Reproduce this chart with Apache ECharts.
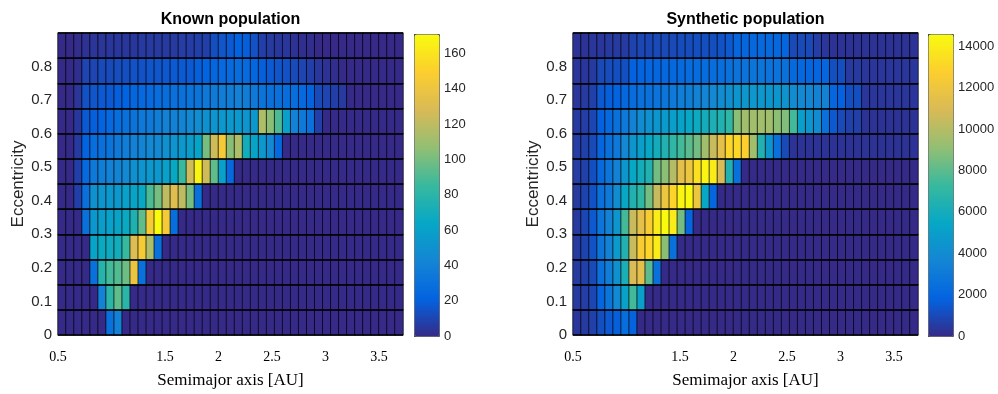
<!DOCTYPE html>
<html><head><meta charset="utf-8">
<script src="https://cdn.jsdelivr.net/npm/echarts@6/dist/echarts.min.js"></script>
<style>html,body{margin:0;padding:0;background:#fff}#c{width:998px;height:394px}</style>
</head><body><div id="c"></div>
<script>
// ---- bins ----
const A_START = 0.5, A_BIN = 0.075, N_A = 43;
const E_START = 0, E_BIN = 0.075, N_E = 12;
const X_TICKS = [0.5, 1.5, 2, 2.5, 3, 3.5];
const Y_TICKS = [0, 0.1, 0.2, 0.3, 0.4, 0.5, 0.6, 0.7, 0.8];
const KNOWN_MAX = 171, SYNTH_MAX = 14600;
const KNOWN_CBAR_TICKS = [0, 20, 40, 60, 80, 100, 120, 140, 160];
const SYNTH_CBAR_TICKS = [0, 2000, 4000, 6000, 8000, 10000, 12000, 14000];
const TITLES = ['Known population', 'Synthetic population'];
const X_NAME = 'Semimajor axis [AU]', Y_NAME = 'Eccentricity';

// ---- Known population counts: rows = eccentricity bins (bottom→top), 43 semimajor-axis bins ----
const KNOWN_E0  = [0,0,0,0,0,0,30,40,0,0, 0,0,0,0,0,0,0,0,0,0, 0,0,0,0,0,0,0,0,0,0, 0,0,0,0,0,0,0,0,0,0, 0,0,0];
const KNOWN_E1  = [0,0,0,0,0,40,80,95,80,0, 0,0,0,0,0,0,0,0,0,0, 0,0,0,0,0,0,0,0,0,0, 0,0,0,0,0,0,0,0,0,0, 0,0,0];
const KNOWN_E2  = [0,0,0,0,30,78,88,92,98,140, 30,0,0,0,0,0,0,0,0,0, 0,0,0,0,0,0,0,0,0,0, 0,0,0,0,0,0,0,0,0,0, 0,0,0];
const KNOWN_E3  = [0,0,0,0,62,66,68,70,85,130, 145,115,30,0,0,0,0,0,0,0, 0,0,0,0,0,0,0,0,0,0, 0,0,0,0,0,0,0,0,0,0, 0,0,0];
const KNOWN_E4  = [0,0,0,30,55,58,60,62,66,75, 95,145,171,145,28,0,0,0,0,0, 0,0,0,0,0,0,0,0,0,0, 0,0,0,0,0,0,0,0,0,0, 0,0,0];
const KNOWN_E5  = [0,0,8,30,50,52,55,55,60,62, 65,90,100,120,132,120,100,30,0,0, 0,0,0,0,0,0,0,0,0,0, 0,0,0,0,0,0,0,0,0,0, 0,0,0];
const KNOWN_E6  = [0,0,8,25,35,38,40,42,45,50, 52,55,55,60,65,85,125,168,125,95, 60,25,0,0,0,0,0,0,0,0, 0,0,0,0,0,0,0,0,0,0, 0,0,0];
const KNOWN_E7  = [0,0,6,22,28,30,32,35,38,40, 42,45,45,50,52,55,58,62,100,125, 145,105,115,70,62,55,45,25,0,0, 0,0,0,0,0,0,0,0,0,0, 0,0,0];
const KNOWN_E8  = [0,0,5,18,20,22,25,28,30,32, 35,35,38,40,40,42,45,48,50,52, 55,55,55,52,55,115,105,90,60,40, 35,30,8,0,0,0,0,0,0,0, 0,0,0];
const KNOWN_E9  = [0,0,4,15,16,18,18,20,22,24, 25,26,28,28,30,30,32,32,35,36, 38,38,40,38,35,32,30,30,28,28, 25,22,12,10,8,6,0,0,0,0, 0,0,0];
const KNOWN_E10 = [0,0,2,10,10,12,12,13,14,15, 15,16,16,17,18,18,18,20,22,24, 25,26,28,26,24,20,18,16,15,12, 10,8,5,3,2,0,0,0,0,0, 0,0,0];
const KNOWN_E11 = [0,0,1,3,4,4,5,5,5,5, 6,6,6,6,6,7,7,8,8,14, 16,18,22,20,15,8,6,5,5,3, 2,2,0,0,0,0,0,0,0,0, 0,0,0];

// ---- Synthetic population counts ----
const SYNTH_E0  = [400,500,700,1200,1500,1700,2400,1900,0,0, 0,0,0,0,0,0,0,0,0,0, 0,0,0,0,0,0,0,0,0,0, 0,0,0,0,0,0,0,0,0,0, 0,0,0];
const SYNTH_E1  = [500,600,900,2000,2800,3800,5200,7500,5000,0, 0,0,0,0,0,0,0,0,0,0, 0,0,0,0,0,0,0,0,0,0, 0,0,0,0,0,0,0,0,0,0, 0,0,0];
const SYNTH_E2  = [500,700,1000,2500,3200,4300,6200,11000,11500,8000, 2500,0,0,0,0,0,0,0,0,0, 0,0,0,0,0,0,0,0,0,0, 0,0,0,0,0,0,0,0,0,0, 0,0,0];
const SYNTH_E3  = [500,800,1300,2800,3500,4800,6500,10500,12500,13000, 14000,9000,2500,0,0,0,0,0,0,0, 0,0,0,0,0,0,0,0,0,0, 0,0,0,0,0,0,0,0,0,0, 0,0,0];
const SYNTH_E4  = [500,900,1500,2800,3500,4500,7500,10500,11500,12500, 14000,14600,14000,8500,2000,0,0,0,0,0, 0,0,0,0,0,0,0,0,0,0, 0,0,0,0,0,0,0,0,0,0, 0,0,0];
const SYNTH_E5  = [500,800,1300,2500,3000,4000,5500,6500,7000,8500, 10500,12000,13000,14300,14500,12000,5500,2000,0,0, 0,0,0,0,0,0,0,0,0,0, 0,0,0,0,0,0,0,0,0,0, 0,0,0];
const SYNTH_E6  = [600,700,1200,2200,2800,3500,4500,5500,6000,6500, 8500,9000,10000,11500,12000,13500,14300,14000,11000,6500, 2500,0,0,0,0,0,0,0,0,0, 0,0,0,0,0,0,0,0,0,0, 0,0,0];
const SYNTH_E7  = [600,700,1000,2000,2500,3000,3800,4500,5000,5500, 6000,6500,7000,7500,8000,8500,9500,10500,11500,13000, 13200,12800,9500,6500,4500,2500,1000,300,300,300, 300,300,300,300,300,300,300,300,300,300, 300,300,300];
const SYNTH_E8  = [500,600,900,1800,2200,2600,3000,3500,4000,4300, 4500,4800,5000,5200,5500,5800,6000,6300,6500,7000, 9000,9500,9500,9500,9500,9000,8800,7500,5000,4500, 4000,2500,1500,1000,700,700,300,300,300,300, 300,300,300];
const SYNTH_E9  = [400,500,700,1500,1700,1900,2100,2300,2500,2600, 2700,2800,3000,3200,3300,3500,3600,3800,4000,4200, 4500,4600,4600,4600,4500,4500,4400,4000,3800,3700, 3500,3500,2000,1800,1200,1200,400,400,400,400, 400,400,400];
const SYNTH_E10 = [400,400,500,1000,1100,1200,1200,1800,1900,2000, 2000,2100,2100,2200,2300,2300,2300,2400,2400,2500, 2700,2700,2800,2800,2700,2700,2600,2200,2100,2000, 2000,2000,1200,1200,500,500,400,400,400,400, 400,400,400];
const SYNTH_E11 = [300,300,400,400,500,500,500,800,900,900, 1000,1000,1000,1100,1100,1200,1200,1200,1300,1500, 2000,2000,2100,2200,2200,2100,2000,1000,1000,1000, 600,400,300,300,300,300,300,300,300,300, 300,300,300];

const KNOWN_ROWS = [KNOWN_E0,KNOWN_E1,KNOWN_E2,KNOWN_E3,KNOWN_E4,KNOWN_E5,KNOWN_E6,KNOWN_E7,KNOWN_E8,KNOWN_E9,KNOWN_E10,KNOWN_E11];
const SYNTH_ROWS = [SYNTH_E0,SYNTH_E1,SYNTH_E2,SYNTH_E3,SYNTH_E4,SYNTH_E5,SYNTH_E6,SYNTH_E7,SYNTH_E8,SYNTH_E9,SYNTH_E10,SYNTH_E11];

const PARULA = ['#352a87','#0363e1','#1485d4','#06a7c6','#38b99e','#92bf73','#d9ba56','#fcce2e','#f9fb0e'];

const X_CATS = Array.from({length: N_A}, (_, i) => (A_START + i * A_BIN).toFixed(3));
const Y_CATS = Array.from({length: N_E}, (_, i) => (E_START + i * E_BIN).toFixed(3));
const A_END = A_START + N_A * A_BIN, E_END = E_START + N_E * E_BIN;

function cells(rows) {
  const d = [];
  rows.forEach((row, r) => row.forEach((v, c) => d.push([c, r, v])));
  return d;
}
function inList(list) {
  return v => (list.some(t => Math.abs(t - v) < 1e-6) ? String(+v.toFixed(4)) : '');
}

const AX_GRAY = '#262626';
const SANS = 'Liberation Sans, Arial, Helvetica, sans-serif';
const SERIF = 'Liberation Serif, Times New Roman, serif';

const PLOTS = [
  {left: 58, cbarLeft: 414, rows: KNOWN_ROWS, max: KNOWN_MAX, ticks: KNOWN_CBAR_TICKS, title: TITLES[0]},
  {left: 573, cbarLeft: 928, rows: SYNTH_ROWS, max: SYNTH_MAX, ticks: SYNTH_CBAR_TICKS, title: TITLES[1]}
];
const TOP = 33, W = 345, H = 302, CBW = 25;

const grid = [], xAxis = [], yAxis = [], series = [], visualMap = [], graphic = [];
PLOTS.forEach((p, k) => {
  grid.push({left: p.left, top: TOP, width: W, height: H, outerBoundsMode: 'none'});
  grid.push({left: p.cbarLeft, top: TOP + 1, width: CBW, height: H, outerBoundsMode: 'none'});
  const g = k * 2, gc = k * 2 + 1;
  const xi = xAxis.length, yi = yAxis.length;
  // category axes carrying the heatmap (row separators drawn on top as split lines)
  xAxis.push({type: 'category', gridIndex: g, data: X_CATS, show: false});
  yAxis.push({type: 'category', gridIndex: g, data: Y_CATS, show: true, z: 5,
    axisLine: {show: false}, axisTick: {show: false}, axisLabel: {show: false},
    splitLine: {show: true, interval: 0, lineStyle: {color: '#000', width: 1.5}}});
  // value axes for labels
  xAxis.push({type: 'value', gridIndex: g, min: A_START, max: A_END, interval: 0.5, position: 'bottom',
    axisLine: {show: false}, axisTick: {show: false}, splitLine: {show: false},
    axisLabel: {formatter: inList(X_TICKS), fontFamily: SERIF, fontSize: 14, color: '#000', margin: 15, showMaxLabel: false},
    name: X_NAME, nameLocation: 'middle', nameGap: 37,
    nameTextStyle: {fontFamily: SERIF, fontSize: 17, color: '#000'}});
  yAxis.push({type: 'value', gridIndex: g, min: E_START, max: E_END, interval: 0.1, position: 'left',
    axisLine: {show: false}, axisTick: {show: false}, splitLine: {show: false},
    axisLabel: {formatter: inList(Y_TICKS), fontFamily: SANS, fontSize: 15, color: AX_GRAY, margin: 6},
    name: Y_NAME, nameLocation: 'middle', nameGap: 30, nameRotate: 90,
    nameTextStyle: {fontFamily: SANS, fontSize: 17, color: AX_GRAY}});
  // colorbar axes
  xAxis.push({type: 'value', gridIndex: gc, min: 0, max: 1, show: false});
  yAxis.push({type: 'value', gridIndex: gc, min: 0, max: p.max, interval: p.ticks[1], position: 'right',
    axisLine: {show: false}, axisTick: {show: true, length: 3, lineStyle: {color: '#333'}}, splitLine: {show: false},
    axisLabel: {formatter: inList(p.ticks), fontFamily: SANS, fontSize: 13, color: AX_GRAY, margin: 5}});
  series.push({type: 'heatmap', xAxisIndex: xi, yAxisIndex: yi, data: cells(p.rows),
    itemStyle: {borderColor: 'rgba(0,0,0,0.7)', borderWidth: 1},
    emphasis: {disabled: true}, progressive: 0, animation: false});
  visualMap.push({type: 'continuous', seriesIndex: k, min: 0, max: p.max, inRange: {color: PARULA},
    calculable: false, hoverLink: false, text: null, showLabel: false,
    left: p.cbarLeft, top: TOP + 1, itemWidth: CBW, itemHeight: H, padding: 0,
    borderColor: '#555', borderWidth: 1});
  graphic.push({type: 'text', x: p.left + W / 2, y: 20,
    style: {text: p.title, font: 'bold 16px ' + SANS, fill: '#000', textAlign: 'center', textVerticalAlign: 'middle'}});
});

const chart = echarts.init(document.getElementById('c'), null, {renderer: 'canvas'});
chart.setOption({animation: false, grid, xAxis, yAxis, series, visualMap, graphic});
</script></body></html>
